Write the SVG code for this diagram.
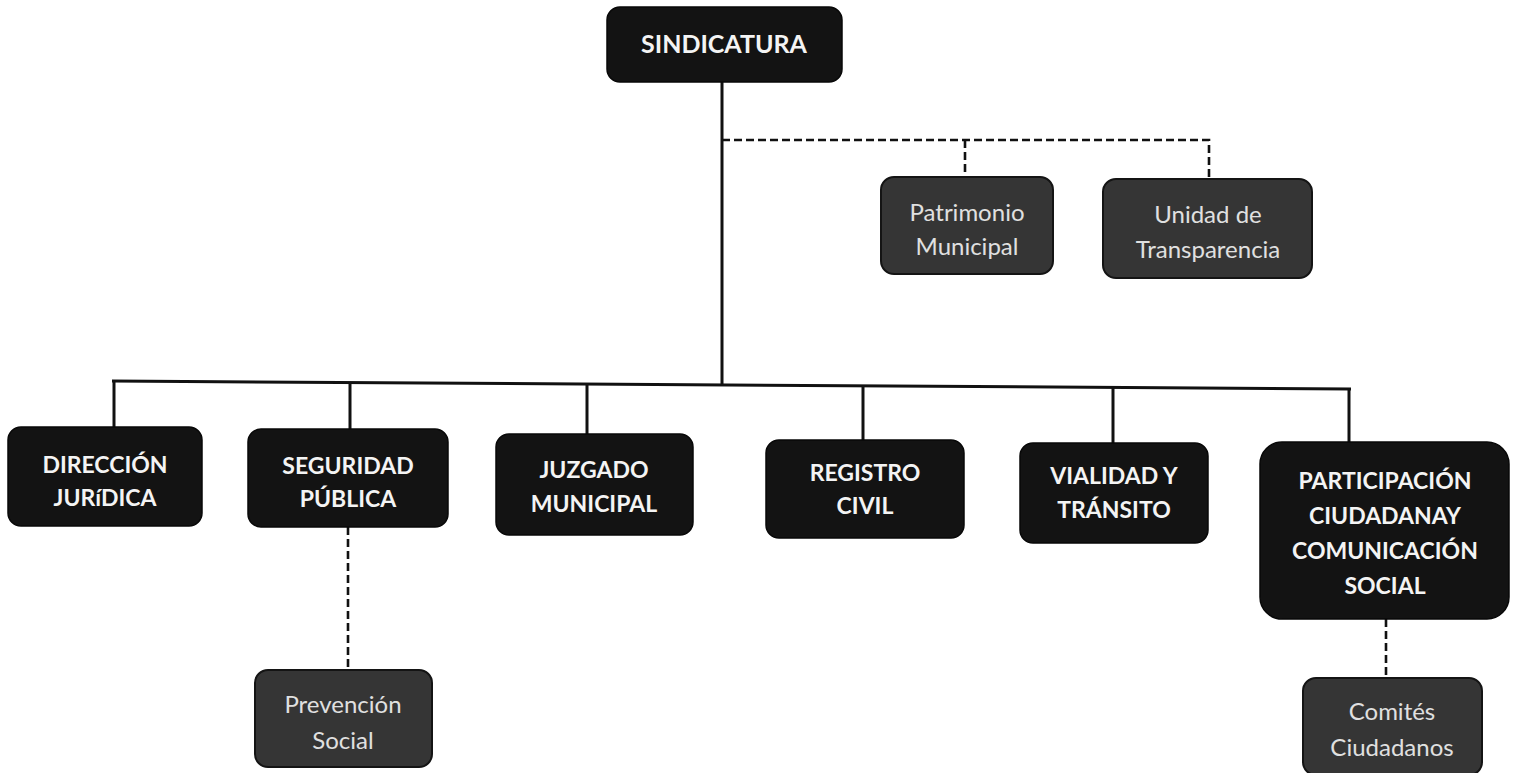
<svg xmlns="http://www.w3.org/2000/svg" width="1517" height="773" viewBox="0 0 1517 773">
<style>
.box{fill:#131313;stroke:#080808;stroke-width:1.5}
.sub{fill:#353535;stroke:#141414;stroke-width:2}
.tb{font-family:Lato,"Open Sans",sans-serif;font-weight:bold;font-size:23px;fill:#f4f4f4;text-anchor:middle}
.tr{font-family:Lato,"Open Sans",sans-serif;font-size:24px;fill:#e0e0e0;text-anchor:middle}
.solid{stroke:#111;stroke-width:3;fill:none}
.dash{stroke:#111;stroke-width:2.6;fill:none;stroke-dasharray:8 4}
</style>
<rect width="1517" height="773" fill="#ffffff"/>
<g id="connectors">
<line class="solid" x1="722" y1="82" x2="722" y2="386"/>
<line class="solid" x1="112" y1="381" x2="1351" y2="389"/>
<line class="solid" x1="114" y1="381" x2="114" y2="427"/>
<line class="solid" x1="350" y1="383" x2="350" y2="429"/>
<line class="solid" x1="587" y1="385" x2="587" y2="434"/>
<line class="solid" x1="863" y1="386" x2="863" y2="440"/>
<line class="solid" x1="1113" y1="388" x2="1113" y2="443"/>
<line class="solid" x1="1349" y1="389" x2="1349" y2="442"/>
<polyline class="dash" points="722,140 1209,140 1209,179"/>
<line class="dash" x1="965" y1="140" x2="965" y2="177"/>
<line class="dash" x1="348" y1="527" x2="348" y2="670"/>
<line class="dash" x1="1386" y1="619" x2="1386" y2="678"/>
</g>
<g id="sindicatura">
<rect class="box" x="607" y="7" width="235" height="75" rx="13"/>
<text class="tb" x="724" y="53" style="font-size:25px">SINDICATURA</text>
</g>
<g id="patrimonio">
<rect class="sub" x="881" y="177" width="172" height="97" rx="13"/>
<text class="tr" x="967" y="221">Patrimonio</text>
<text class="tr" x="967" y="255">Municipal</text>
</g>
<g id="transparencia">
<rect class="sub" x="1103" y="179" width="209" height="99" rx="13"/>
<text class="tr" x="1208" y="223">Unidad de</text>
<text class="tr" x="1208" y="258">Transparencia</text>
</g>
<g id="direccion">
<rect class="box" x="8" y="427" width="194" height="99" rx="13"/>
<text class="tb" x="105" y="473">DIRECCIÓN</text>
<text class="tb" x="105" y="506">JURíDICA</text>
</g>
<g id="seguridad">
<rect class="box" x="248" y="429" width="200" height="98" rx="13"/>
<text class="tb" x="348" y="474">SEGURIDAD</text>
<text class="tb" x="348" y="507">PÚBLICA</text>
</g>
<g id="juzgado">
<rect class="box" x="496" y="434" width="197" height="101" rx="13"/>
<text class="tb" x="594" y="478">JUZGADO</text>
<text class="tb" x="594" y="512">MUNICIPAL</text>
</g>
<g id="registro">
<rect class="box" x="766" y="440" width="198" height="98" rx="13"/>
<text class="tb" x="865" y="481">REGISTRO</text>
<text class="tb" x="865" y="514">CIVIL</text>
</g>
<g id="vialidad">
<rect class="box" x="1020" y="443" width="188" height="100" rx="13"/>
<text class="tb" x="1114" y="484">VIALIDAD Y</text>
<text class="tb" x="1114" y="518">TRÁNSITO</text>
</g>
<g id="participacion">
<rect class="box" x="1260" y="442" width="249" height="177" rx="22"/>
<text class="tb" x="1385" y="489">PARTICIPACIÓN</text>
<text class="tb" x="1385" y="524">CIUDADANAY</text>
<text class="tb" x="1385" y="559">COMUNICACIÓN</text>
<text class="tb" x="1385" y="594">SOCIAL</text>
</g>
<g id="prevencion">
<rect class="sub" x="255" y="670" width="177" height="97" rx="13"/>
<text class="tr" x="343" y="713">Prevención</text>
<text class="tr" x="343" y="749">Social</text>
</g>
<g id="comites">
<rect class="sub" x="1303" y="678" width="179" height="97" rx="13"/>
<text class="tr" x="1392" y="720">Comités</text>
<text class="tr" x="1392" y="756">Ciudadanos</text>
</g>
</svg>
